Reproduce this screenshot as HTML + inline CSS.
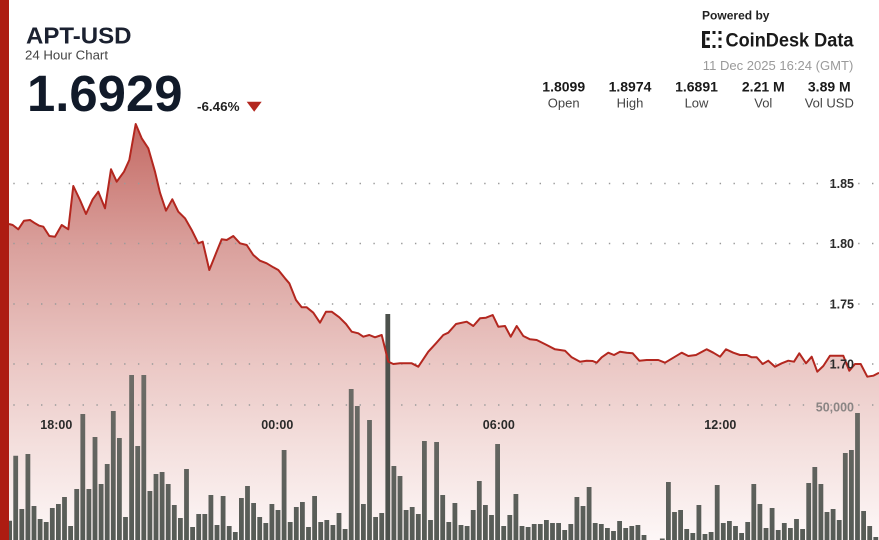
<!DOCTYPE html>
<html><head><meta charset="utf-8"><style>
html,body{margin:0;padding:0;background:#fff;}
svg{display:block;font-family:"Liberation Sans",sans-serif;}
</style></head><body>
<svg width="879" height="540" viewBox="0 0 879 540" xmlns="http://www.w3.org/2000/svg">
<defs>
<linearGradient id="fg" gradientUnits="userSpaceOnUse" x1="0" y1="124" x2="0" y2="540">
<stop offset="0" stop-color="#c46a64"/>
<stop offset="0.3" stop-color="#daa19d"/>
<stop offset="0.58" stop-color="#ebc8c5"/>
<stop offset="0.78" stop-color="#f4e0de"/>
<stop offset="1" stop-color="#fdf7f7"/>
</linearGradient>
<linearGradient id="bg" gradientUnits="userSpaceOnUse" x1="0" y1="370" x2="0" y2="540">
<stop offset="0" stop-color="#6e6d68"/>
<stop offset="1" stop-color="#565b56"/>
</linearGradient>
</defs>
<rect width="879" height="540" fill="#fff"/>
<path fill="url(#fg)" d="M9,224 L12.7,225 L18.3,229.3 L24,220.7 L30,220 L35,223.3 L39.3,225.7 L43.3,226.7 L49.3,236 L55,236.7 L61.7,225 L68.3,229.3 L73.3,186 L80,200 L86,214 L92.7,199.3 L98.3,191.7 L105,208.3 L111,169.3 L116.7,181.7 L124,171.7 L129.3,160 L135.7,124 L141.7,138.3 L148.3,148.3 L155,171.7 L160,192.7 L166,210.7 L172.3,199.3 L178.3,211.7 L185,218.3 L191.7,230 L198.3,243.3 L202.7,241.7 L209.3,270 L216,253.3 L221.7,239.3 L226.7,240 L233.3,236 L240,243.3 L246.7,245 L253.3,255 L260,260.7 L266.7,263.3 L273.3,267.3 L278.3,270 L285,278.3 L289.3,283.3 L296,300 L301.7,307.3 L306.7,307.3 L313.3,312.7 L320,322.7 L326,311.7 L331.7,311.7 L339.3,317.3 L346,324 L351.7,331.7 L358.3,333.3 L363.3,336.7 L369.3,335 L375,337.3 L381.7,335 L388.3,361.7 L393.3,364 L400,363.3 L411.7,363.3 L418.3,366.7 L428.3,351.7 L436,343.3 L443.3,335 L448.3,332.7 L456,324 L466.7,321.7 L473.3,326 L480,318.3 L486,317.7 L492.7,315 L498.3,326.7 L505,326 L510.7,336.7 L516.7,326 L523.3,336 L530,339.3 L536.7,340 L546.7,345 L555,349.3 L565,350.7 L571.7,357.3 L580,361.7 L586.7,360.7 L592.7,361 L596.7,362.7 L601.7,357.3 L608.3,352.7 L614,355 L620,351.7 L626.7,352.7 L632.7,353.3 L639.3,360.7 L646.7,360 L658.3,360 L665,362.7 L674,357.3 L681.7,352.7 L688.3,356 L696,355 L706.7,349.3 L713.3,352.7 L720,356.7 L726,349.3 L733.3,352.7 L740,355 L746.7,355 L751.7,357.3 L756.7,357.3 L762.7,364 L768.3,360.7 L775,366.7 L781.7,363.3 L788.3,360.7 L794,361.7 L799.3,353.3 L806,363.3 L811.7,356.7 L817.3,371.7 L823.3,366 L830,355.7 L843.3,355.7 L849.3,370.7 L855,364 L860.7,364 L867.3,376.7 L873.3,375.7 L879,372.7 L879,540 L9,540 Z"/>
<g stroke="#9a9a9a" stroke-width="1.4" stroke-dasharray="1.4 12.45" fill="none">
<line x1="13.3" y1="183.5" x2="879" y2="183.5"/>
<line x1="13.3" y1="243.5" x2="879" y2="243.5"/>
<line x1="13.3" y1="304" x2="879" y2="304"/>
<line x1="13.3" y1="364" x2="879" y2="364"/>
<line x1="13.3" y1="405" x2="879" y2="405"/>
</g>
<path fill="url(#bg)" d="M7.2,520.7h4.8V540h-4.8z M13.3,455.7h4.8V540h-4.8z M19.4,509h4.8V540h-4.8z M25.5,454h4.8V540h-4.8z M31.6,506h4.8V540h-4.8z M37.7,519h4.8V540h-4.8z M43.8,522h4.8V540h-4.8z M49.9,508h4.8V540h-4.8z M56,504h4.8V540h-4.8z M62.1,497h4.8V540h-4.8z M68.2,526h4.8V540h-4.8z M74.3,489h4.8V540h-4.8z M80.4,414h4.8V540h-4.8z M86.5,489h4.8V540h-4.8z M92.6,437h4.8V540h-4.8z M98.7,484h4.8V540h-4.8z M104.8,464h4.8V540h-4.8z M110.9,411h4.8V540h-4.8z M117,438h4.8V540h-4.8z M123.1,517h4.8V540h-4.8z M129.2,375h4.8V540h-4.8z M135.3,446h4.8V540h-4.8z M141.4,375h4.8V540h-4.8z M147.5,491h4.8V540h-4.8z M153.6,474h4.8V540h-4.8z M159.7,472h4.8V540h-4.8z M165.8,484h4.8V540h-4.8z M171.9,505h4.8V540h-4.8z M178,518h4.8V540h-4.8z M184.1,469h4.8V540h-4.8z M190.2,527h4.8V540h-4.8z M196.3,514h4.8V540h-4.8z M202.4,514h4.8V540h-4.8z M208.5,495h4.8V540h-4.8z M214.6,525h4.8V540h-4.8z M220.7,496h4.8V540h-4.8z M226.8,526h4.8V540h-4.8z M232.9,532h4.8V540h-4.8z M239,498h4.8V540h-4.8z M245.1,486h4.8V540h-4.8z M251.2,503h4.8V540h-4.8z M257.3,517h4.8V540h-4.8z M263.4,523h4.8V540h-4.8z M269.5,504h4.8V540h-4.8z M275.6,510h4.8V540h-4.8z M281.7,450h4.8V540h-4.8z M287.8,522h4.8V540h-4.8z M293.9,507h4.8V540h-4.8z M300,502h4.8V540h-4.8z M306.1,527h4.8V540h-4.8z M312.2,496h4.8V540h-4.8z M318.3,522h4.8V540h-4.8z M324.4,520h4.8V540h-4.8z M330.5,525h4.8V540h-4.8z M336.6,513h4.8V540h-4.8z M342.7,529h4.8V540h-4.8z M348.8,389h4.8V540h-4.8z M354.9,406h4.8V540h-4.8z M361,504h4.8V540h-4.8z M367.1,420h4.8V540h-4.8z M373.2,517h4.8V540h-4.8z M379.3,513h4.8V540h-4.8z M391.5,466h4.8V540h-4.8z M397.6,476h4.8V540h-4.8z M403.7,510h4.8V540h-4.8z M409.8,507h4.8V540h-4.8z M415.9,514h4.8V540h-4.8z M422,441h4.8V540h-4.8z M428.1,520h4.8V540h-4.8z M434.2,442h4.8V540h-4.8z M440.3,495h4.8V540h-4.8z M446.4,522h4.8V540h-4.8z M452.5,503h4.8V540h-4.8z M458.6,525h4.8V540h-4.8z M464.7,526h4.8V540h-4.8z M470.8,510h4.8V540h-4.8z M476.9,481h4.8V540h-4.8z M483,505h4.8V540h-4.8z M489.1,515h4.8V540h-4.8z M495.2,444h4.8V540h-4.8z M501.3,526h4.8V540h-4.8z M507.4,515h4.8V540h-4.8z M513.5,494h4.8V540h-4.8z M519.6,526h4.8V540h-4.8z M525.7,527h4.8V540h-4.8z M531.8,524h4.8V540h-4.8z M537.9,524h4.8V540h-4.8z M544,520h4.8V540h-4.8z M550.1,523h4.8V540h-4.8z M556.2,523h4.8V540h-4.8z M562.3,530h4.8V540h-4.8z M568.4,524h4.8V540h-4.8z M574.5,497h4.8V540h-4.8z M580.6,506h4.8V540h-4.8z M586.7,487h4.8V540h-4.8z M592.8,523h4.8V540h-4.8z M598.9,524h4.8V540h-4.8z M605,528h4.8V540h-4.8z M611.1,531h4.8V540h-4.8z M617.2,521h4.8V540h-4.8z M623.3,528h4.8V540h-4.8z M629.4,526h4.8V540h-4.8z M635.5,525h4.8V540h-4.8z M641.6,535h4.8V540h-4.8z M659.9,538.5h4.8V540h-4.8z M666,482h4.8V540h-4.8z M672.1,512h4.8V540h-4.8z M678.2,510h4.8V540h-4.8z M684.3,529h4.8V540h-4.8z M690.4,533h4.8V540h-4.8z M696.5,505h4.8V540h-4.8z M702.6,534h4.8V540h-4.8z M708.7,532h4.8V540h-4.8z M714.8,485h4.8V540h-4.8z M720.9,523h4.8V540h-4.8z M727,521h4.8V540h-4.8z M733.1,526h4.8V540h-4.8z M739.2,533h4.8V540h-4.8z M745.3,522h4.8V540h-4.8z M751.4,484h4.8V540h-4.8z M757.5,504h4.8V540h-4.8z M763.6,528h4.8V540h-4.8z M769.7,508h4.8V540h-4.8z M775.8,530h4.8V540h-4.8z M781.9,523h4.8V540h-4.8z M788,528h4.8V540h-4.8z M794.1,519h4.8V540h-4.8z M800.2,529h4.8V540h-4.8z M806.3,483h4.8V540h-4.8z M812.4,467h4.8V540h-4.8z M818.5,484h4.8V540h-4.8z M824.6,512h4.8V540h-4.8z M830.7,509h4.8V540h-4.8z M836.8,520h4.8V540h-4.8z M842.9,453h4.8V540h-4.8z M849,450h4.8V540h-4.8z M855.1,413h4.8V540h-4.8z M861.2,511h4.8V540h-4.8z M867.3,526h4.8V540h-4.8z M873.4,537h4.8V540h-4.8z"/>
<rect x="385.4" y="314" width="4.8" height="226" fill="#4c514c"/>
<path fill="none" stroke="#b3271f" stroke-width="2" stroke-linejoin="round" d="M9,224 L12.7,225 L18.3,229.3 L24,220.7 L30,220 L35,223.3 L39.3,225.7 L43.3,226.7 L49.3,236 L55,236.7 L61.7,225 L68.3,229.3 L73.3,186 L80,200 L86,214 L92.7,199.3 L98.3,191.7 L105,208.3 L111,169.3 L116.7,181.7 L124,171.7 L129.3,160 L135.7,124 L141.7,138.3 L148.3,148.3 L155,171.7 L160,192.7 L166,210.7 L172.3,199.3 L178.3,211.7 L185,218.3 L191.7,230 L198.3,243.3 L202.7,241.7 L209.3,270 L216,253.3 L221.7,239.3 L226.7,240 L233.3,236 L240,243.3 L246.7,245 L253.3,255 L260,260.7 L266.7,263.3 L273.3,267.3 L278.3,270 L285,278.3 L289.3,283.3 L296,300 L301.7,307.3 L306.7,307.3 L313.3,312.7 L320,322.7 L326,311.7 L331.7,311.7 L339.3,317.3 L346,324 L351.7,331.7 L358.3,333.3 L363.3,336.7 L369.3,335 L375,337.3 L381.7,335 L388.3,361.7 L393.3,364 L400,363.3 L411.7,363.3 L418.3,366.7 L428.3,351.7 L436,343.3 L443.3,335 L448.3,332.7 L456,324 L466.7,321.7 L473.3,326 L480,318.3 L486,317.7 L492.7,315 L498.3,326.7 L505,326 L510.7,336.7 L516.7,326 L523.3,336 L530,339.3 L536.7,340 L546.7,345 L555,349.3 L565,350.7 L571.7,357.3 L580,361.7 L586.7,360.7 L592.7,361 L596.7,362.7 L601.7,357.3 L608.3,352.7 L614,355 L620,351.7 L626.7,352.7 L632.7,353.3 L639.3,360.7 L646.7,360 L658.3,360 L665,362.7 L674,357.3 L681.7,352.7 L688.3,356 L696,355 L706.7,349.3 L713.3,352.7 L720,356.7 L726,349.3 L733.3,352.7 L740,355 L746.7,355 L751.7,357.3 L756.7,357.3 L762.7,364 L768.3,360.7 L775,366.7 L781.7,363.3 L788.3,360.7 L794,361.7 L799.3,353.3 L806,363.3 L811.7,356.7 L817.3,371.7 L823.3,366 L830,355.7 L843.3,355.7 L849.3,370.7 L855,364 L860.7,364 L867.3,376.7 L873.3,375.7 L879,372.7"/>
<rect x="0" y="0" width="9" height="540" fill="#ad1c12"/>
<g font-weight="bold" font-size="12.5" fill="#2a2a2a" text-anchor="end">
<text x="854" y="188">1.85</text>
<text x="854" y="248">1.80</text>
<text x="854" y="308.5">1.75</text>
<text x="854" y="368.5">1.70</text>
</g>
<text x="854" y="411.5" font-weight="bold" font-size="12.5" fill="#8a8584" text-anchor="end">50,000</text>
<g font-weight="bold" font-size="12.5" fill="#2a2a2a" text-anchor="middle">
<text x="56.3" y="429">18:00</text>
<text x="277.3" y="429">00:00</text>
<text x="498.8" y="429">06:00</text>
<text x="720.3" y="429">12:00</text>
</g>
<text x="26" y="43.3" font-weight="bold" font-size="23.5" fill="#1b2130" textLength="105.5" lengthAdjust="spacingAndGlyphs">APT-USD</text>
<text x="25" y="59.5" font-size="13" fill="#444" textLength="83" lengthAdjust="spacingAndGlyphs">24 Hour Chart</text>
<text x="27" y="111" font-weight="bold" font-size="51" fill="#111a29" textLength="155.5" lengthAdjust="spacingAndGlyphs">1.6929</text>
<text x="197" y="111" font-weight="bold" font-size="12.5" fill="#222" textLength="42.5" lengthAdjust="spacingAndGlyphs">-6.46%</text>
<polygon points="246.7,101.7 261.7,101.7 254.2,111.7" fill="#b3271f"/>
<text x="702" y="19.5" font-weight="bold" font-size="12" fill="#222" textLength="67.5" lengthAdjust="spacingAndGlyphs">Powered by</text>
<g fill="#1a1a1a">
<rect x="702" y="31" width="3.2" height="17"/>
<rect x="702" y="31" width="8" height="3"/>
<rect x="702" y="45" width="8" height="3"/>
<rect x="706.5" y="37.5" width="3" height="3"/>
<rect x="712.5" y="31" width="3" height="3"/>
<rect x="712.5" y="45" width="3" height="3"/>
<rect x="718.5" y="31" width="3" height="3"/>
<rect x="718.5" y="37.5" width="3" height="3"/>
<rect x="718.5" y="45" width="3" height="3"/>
</g>
<text x="725.5" y="46.5" font-weight="bold" font-size="19" fill="#1a1a1a" textLength="128" lengthAdjust="spacingAndGlyphs">CoinDesk Data</text>
<text x="853.3" y="70" font-size="13" fill="#9a9a9a" text-anchor="end" textLength="150.5" lengthAdjust="spacingAndGlyphs">11 Dec 2025 16:24 (GMT)</text>
<g font-weight="bold" font-size="14" fill="#1a1a1a" text-anchor="middle">
<text x="563.7" y="91.7">1.8099</text>
<text x="630" y="91.7">1.8974</text>
<text x="696.5" y="91.7">1.6891</text>
<text x="763.3" y="91.7">2.21 M</text>
<text x="829.3" y="91.7">3.89 M</text>
</g>
<g font-size="13" fill="#444" text-anchor="middle">
<text x="563.7" y="107.5">Open</text>
<text x="630" y="107.5">High</text>
<text x="696.5" y="107.5">Low</text>
<text x="763.3" y="107.5">Vol</text>
<text x="829.3" y="107.5">Vol USD</text>
</g>
</svg>
</body></html>
